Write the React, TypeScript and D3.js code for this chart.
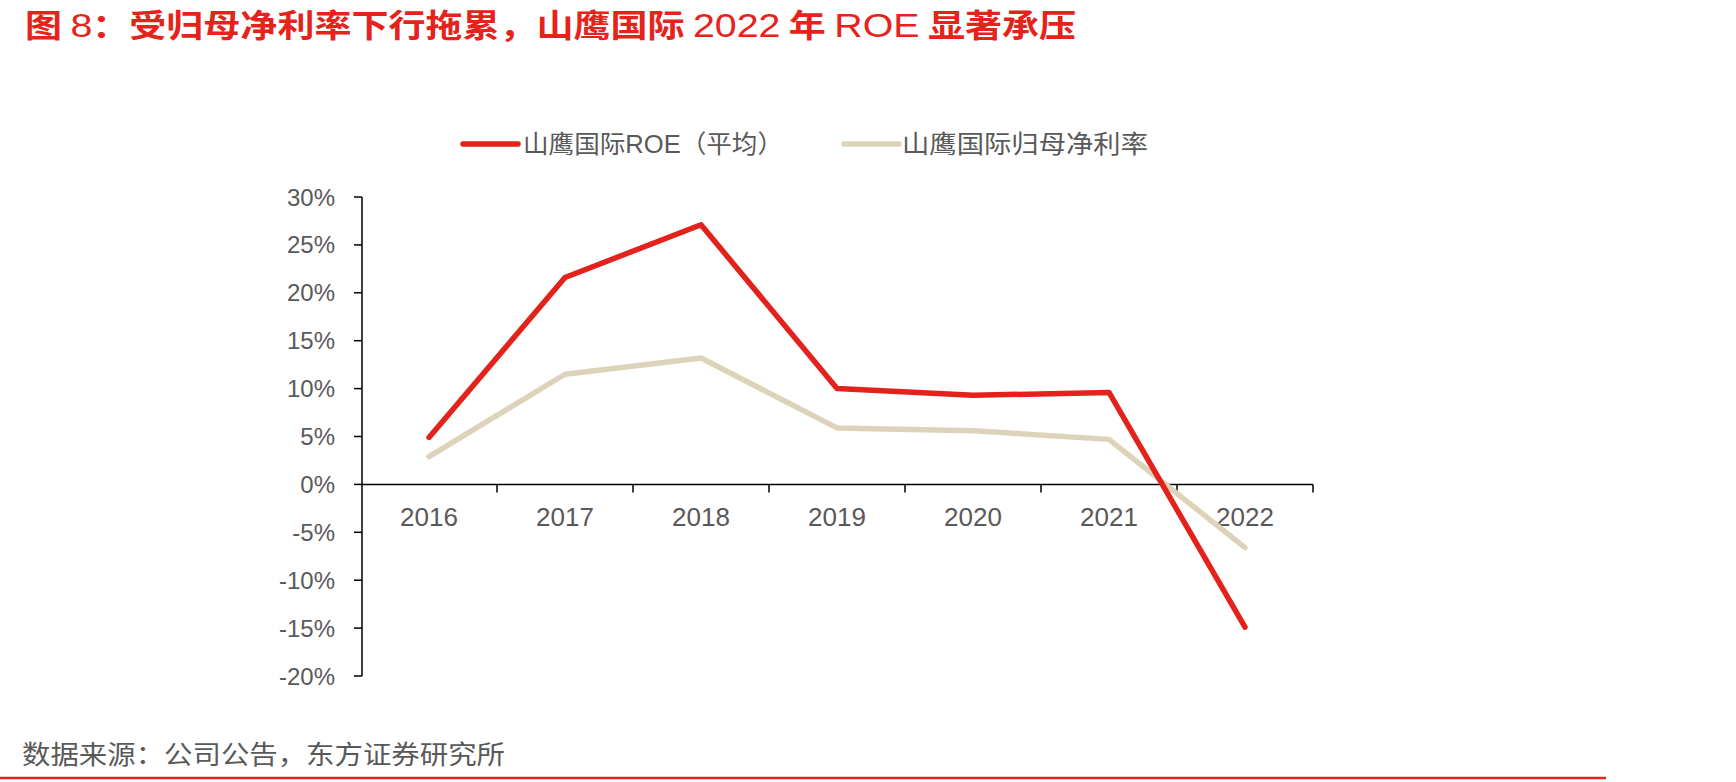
import React, { useEffect, useRef } from 'react';
import * as d3 from 'd3';

const years = ['2016', '2017', '2018', '2019', '2020', '2021', '2022'];
const roe = [4.9, 21.6, 27.1, 10.0, 9.3, 9.6, -14.9];
const netMargin = [2.9, 11.5, 13.2, 5.9, 5.6, 4.7, -6.6];
const yTicks = [-20, -15, -10, -5, 0, 5, 10, 15, 20, 25, 30];

const seriesNames = ['山鹰国际ROE（平均）', '山鹰国际归母净利率'];
const seriesColors = ['#e3221c', '#ddd3bb'];

// title split so latin runs can be drawn in a lighter weight
const titleParts = [
  { t: '图 ', latin: false },
  { t: '8', latin: true },
  { t: '：受归母净利率下行拖累，山鹰国际 ', latin: false },
  { t: '2022', latin: true },
  { t: ' 年 ', latin: false },
  { t: 'ROE', latin: true },
  { t: ' 显著承压', latin: false },
];
const source = '数据来源：公司公告，东方证券研究所';

const W = 1736;
const H = 782;
const FONT = "'Liberation Sans', Arial, 'Noto Sans CJK SC', sans-serif";

const App: React.FC = () => {
  const svgRef = useRef<SVGSVGElement>(null);

  useEffect(() => {
    if (!svgRef.current) return;
    const svg = d3.select(svgRef.current);
    svg.selectAll('*').remove();

    const x = d3.scaleBand<string>().domain(years).range([361, 1313]).padding(0);
    const y = d3.scaleLinear().domain([-20, 30]).range([676, 197]);
    const bw = x.bandwidth();
    const axisColor = '#000';
    const textColor = '#595959';

    // title
    const title = svg.append('text')
      .attr('x', 25).attr('y', 37)
      .attr('font-size', 32)
      .attr('fill', '#e5231b')
      .attr('textLength', 1051)
      .attr('lengthAdjust', 'spacingAndGlyphs');
    titleParts.forEach(p => {
      title.append('tspan')
        .attr('font-family', p.latin ? "'Liberation Sans', Arial, sans-serif" : "'Noto Sans CJK SC', sans-serif")
        .attr('font-weight', p.latin ? 400 : 700)
        .attr('font-size', p.latin ? 34 : 32)
        .text(p.t);
    });

    // legend
    const legendItems = [
      { lx: 463, tx: 523, tw: 260 },
      { lx: 844, tx: 902, tw: 246 },
    ];
    legendItems.forEach((d, i) => {
      svg.append('line')
        .attr('x1', d.lx).attr('x2', d.lx + 55)
        .attr('y1', 144).attr('y2', 144)
        .attr('stroke', seriesColors[i])
        .attr('stroke-width', 5.5)
        .attr('stroke-linecap', 'round');
      svg.append('text')
        .attr('x', d.tx).attr('y', 144)
        .attr('dominant-baseline', 'central')
        .attr('font-family', FONT)
        .attr('font-size', 25)
        .attr('fill', textColor)
        .attr('textLength', d.tw)
        .attr('lengthAdjust', 'spacingAndGlyphs')
        .text(seriesNames[i]);
    });

    // y axis
    svg.append('line')
      .attr('x1', 362).attr('x2', 362)
      .attr('y1', y(30)).attr('y2', y(-20))
      .attr('stroke', axisColor).attr('stroke-width', 1.5);
    yTicks.forEach(t => {
      svg.append('line')
        .attr('x1', 354).attr('x2', 362)
        .attr('y1', y(t)).attr('y2', y(t))
        .attr('stroke', axisColor).attr('stroke-width', 1.5);
      svg.append('text')
        .attr('x', 335).attr('y', y(t) + 8.5)
        .attr('text-anchor', 'end')
        .attr('font-family', FONT)
        .attr('font-size', 24)
        .attr('fill', textColor)
        .text(`${t}%`);
    });

    // x axis
    svg.append('line')
      .attr('x1', 361).attr('x2', 1313)
      .attr('y1', y(0)).attr('y2', y(0))
      .attr('stroke', axisColor).attr('stroke-width', 1.5);
    years.forEach(yr => {
      const bx = (x(yr) as number) + bw;
      svg.append('line')
        .attr('x1', bx).attr('x2', bx)
        .attr('y1', y(0)).attr('y2', y(0) + 8)
        .attr('stroke', axisColor).attr('stroke-width', 1.5);
      svg.append('text')
        .attr('x', (x(yr) as number) + bw / 2).attr('y', 526)
        .attr('text-anchor', 'middle')
        .attr('font-family', FONT)
        .attr('font-size', 26)
        .attr('fill', textColor)
        .text(yr);
    });

    // lines
    const line = d3.line<number>()
      .x((_, i) => (x(years[i]) as number) + bw / 2)
      .y(d => y(d));
    [netMargin, roe].forEach((s, k) => {
      svg.append('path')
        .attr('d', line(s) as string)
        .attr('fill', 'none')
        .attr('stroke', k === 0 ? seriesColors[1] : seriesColors[0])
        .attr('stroke-width', 5.5)
        .attr('stroke-linejoin', 'round')
        .attr('stroke-linecap', 'round');
    });

    // source + bottom rule
    svg.append('text')
      .attr('x', 22).attr('y', 752)
      .attr('dominant-baseline', 'central')
      .attr('font-family', "'Noto Sans CJK SC', sans-serif")
      .attr('font-size', 26)
      .attr('fill', textColor)
      .attr('textLength', 483)
      .attr('lengthAdjust', 'spacingAndGlyphs')
      .text(source);
    svg.append('line')
      .attr('x1', 0).attr('x2', 1606)
      .attr('y1', 778).attr('y2', 778)
      .attr('stroke', '#e5231b').attr('stroke-width', 2.5);
  }, []);

  return (
    <svg
      ref={svgRef}
      width={W}
      height={H}
      style={{ position: 'absolute', left: 0, top: 0, background: '#fff' }}
    />
  );
};

export default App;
